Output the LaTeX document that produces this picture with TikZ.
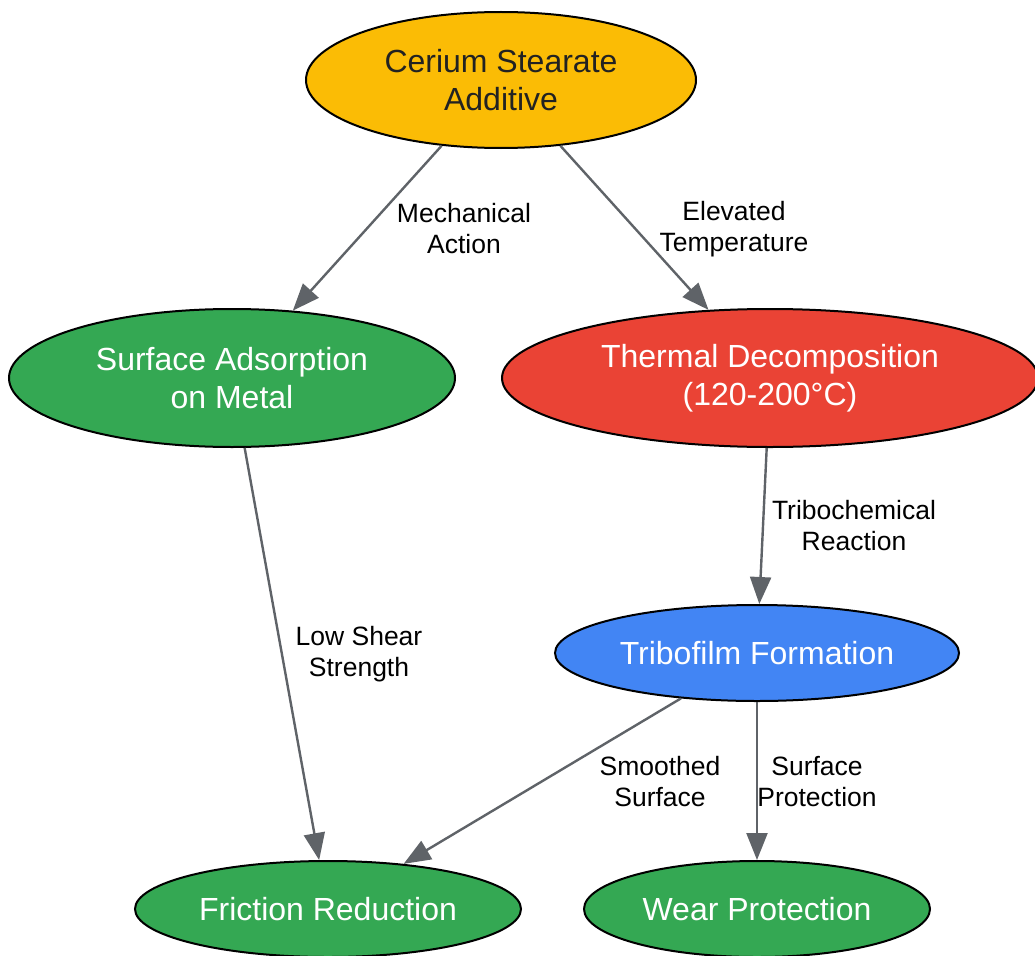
\documentclass[tikz,border=0pt]{standalone}
\usepackage{fontspec}
\setmainfont{Liberation Sans}
\usetikzlibrary{shapes.geometric,arrows.meta}
\definecolor{cyellow}{HTML}{FBBC05}
\definecolor{cgreen}{HTML}{34A853}
\definecolor{cred}{HTML}{EA4335}
\definecolor{cblue}{HTML}{4285F4}
\definecolor{cedge}{HTML}{5F6368}
\definecolor{ctext}{HTML}{222222}
\tikzset{
  proc/.style={ellipse, draw=black, line width=2pt, inner sep=0pt, align=center,
    font=\fontsize{32}{38}\selectfont, text=white},
  conn/.style={draw=cedge, line width=2.4pt, -{Triangle[length=27pt,width=21pt]}},
  elabel/.style={align=center, font=\fontsize{26.5}{31}\selectfont, text=black}
}
\begin{document}
\begin{tikzpicture}[x=1pt,y=-1pt]
\useasboundingbox (0,0) rectangle (1035,955);
\clip (0,0) rectangle (1035,955);
\node[proc, fill=cyellow, text=ctext, minimum width=390pt, minimum height=136pt] (a) at (501,80) {Cerium Stearate\\Additive};
\node[proc, fill=cgreen, minimum width=446pt, minimum height=138pt] (b) at (232,378) {Surface Adsorption\\on Metal};
\node[proc, fill=cred, minimum width=536pt, minimum height=138pt] (c) at (770,378) {Thermal Decomposition\\(120-200°C)};
\node[proc, fill=cblue, minimum width=404pt, minimum height=96pt] (d) at (757,653) {Tribofilm Formation};
\node[proc, fill=cgreen, minimum width=386pt, minimum height=96pt] (e) at (328,909) {Friction Reduction};
\node[proc, fill=cgreen, minimum width=346pt, minimum height=96pt] (f) at (757,909) {Wear Protection};
\draw[conn] (a) -- (b);
\draw[conn] (a) -- (c);
\draw[conn] (b) -- (e);
\draw[conn] (c) -- (d);
\draw[conn] (d) -- (e);
\draw[conn] (d) -- (f);
\node[elabel] (l1) at (464,229) {Mechanical\\Action};
\node[elabel] (l2) at (734,229) {Elevated\\Temperature};
\node[elabel] (l3) at (854,526) {Tribochemical\\Reaction};
\node[elabel] (l4) at (359,654) {Low Shear\\Strength};
\node[elabel] (l5) at (660,782) {Smoothed\\Surface};
\node[elabel] (l6) at (817,782) {Surface\\Protection};
\end{tikzpicture}
\end{document}
